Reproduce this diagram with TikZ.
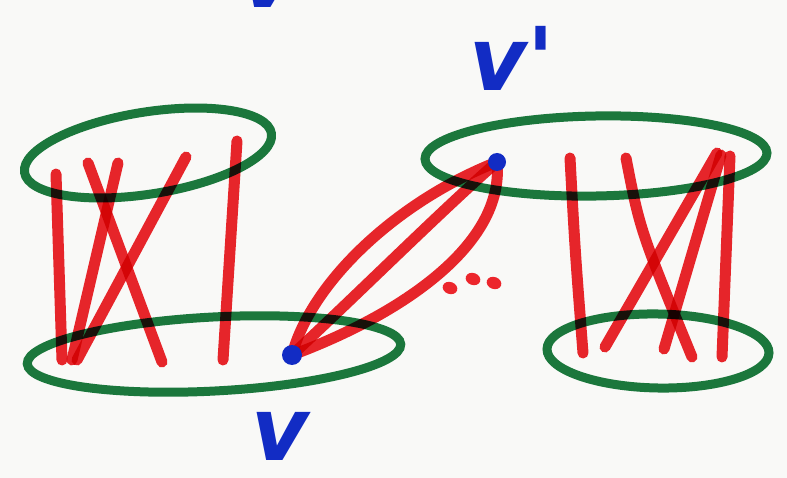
\documentclass[tikz,border=0pt]{standalone}
\usepackage{fontspec}
\newfontfamily\penfont{DejaVu Sans}
\definecolor{paper}{RGB}{249,249,247}
\definecolor{penred}{RGB}{236,38,44}
\definecolor{pengreen}{RGB}{28,122,62}
\definecolor{penblue}{RGB}{18,44,196}
\tikzset{
  greenpen/.style={draw=pengreen, line width=9pt, blend mode=multiply},
  redpen/.style={draw=penred, line width=11pt, line cap=round, blend mode=multiply},
  vertexdot/.style={fill=penblue, draw=none},
  dotmark/.style={fill=penred, draw=none, ellipse, minimum width=15pt, minimum height=12pt, inner sep=0pt},
  label/.style={text=penblue, font=\penfont\bfseries\itshape\fontsize{88}{88}\selectfont, inner sep=0pt}
}
\usetikzlibrary{shapes.geometric}
\begin{document}
\begin{tikzpicture}[x=1pt,y=-1pt]
\useasboundingbox (0,0) rectangle (787,478);
\clip (0,0) rectangle (787,478);
\fill[paper] (0,0) rectangle (787,478);

% green ellipses
\draw[greenpen, rotate around={9:(148,153)}] (148,153) ellipse [x radius=125pt, y radius=41pt];
\draw[greenpen, rotate around={3:(214,354)}] (214,354) ellipse [x radius=187pt, y radius=37pt];
\draw[greenpen, rotate around={1:(596,156)}] (596,156) ellipse [x radius=171pt, y radius=40pt];
\draw[greenpen, rotate around={-1:(658,351)}] (658,351) ellipse [x radius=111pt, y radius=37pt];

% left red edges
\coordinate (l1a) at (56,174); \coordinate (l1b) at (62,360);
\coordinate (l2a) at (88,163); \coordinate (l2b) at (162,362);
\coordinate (l3a) at (118,163); \coordinate (l3b) at (72,360);
\coordinate (l4a) at (186,157); \coordinate (l4b) at (77,360);
\coordinate (l5a) at (237,141); \coordinate (l5b) at (223,360);
\draw[redpen] (l1a) -- (l1b);
\draw[redpen] (l2a) -- (l2b);
\draw[redpen] (l3a) -- (l3b);
\draw[redpen] (l4a) -- (l4b);
\draw[redpen] (l5a) -- (l5b);

% right red edges
\coordinate (r1a) at (570,158); \coordinate (r1b) at (583,353);
\coordinate (r2a) at (626,158); \coordinate (r2b) at (692,357);
\coordinate (r3a) at (717,153); \coordinate (r3b) at (605,347);
\coordinate (r4a) at (721,155); \coordinate (r4b) at (664,349);
\coordinate (r5a) at (730,156); \coordinate (r5b) at (722,357);
\draw[redpen] (r1a) .. controls (575,250) .. (r1b);
\draw[redpen] (r2a) .. controls (640,230) .. (r2b);
\draw[redpen] (r3a) -- (r3b);
\draw[redpen] (r4a) -- (r4b);
\draw[redpen] (r5a) -- (r5b);

% edges between v and v'
\coordinate (vb) at (292,355);
\coordinate (vt) at (497,162);
\draw[redpen] (vb) .. controls (312,280) and (400,200) .. (vt);
\draw[redpen] (vb) .. controls (360,292) and (440,212) .. (vt);
\draw[redpen] (vb) .. controls (400,315) and (505,245) .. (vt);

% dots
\node[dotmark, rotate=-20] (d1) at (450,288) {};
\node[dotmark, rotate=-20] (d2) at (473,279) {};
\node[dotmark, rotate=-20] (d3) at (494,283) {};

% vertices
\fill[vertexdot] (vb) circle (10pt);
\fill[vertexdot] (vt) circle (9pt);

% labels
\node[label] (lv) at (280,436) {v};
\node[label] (lvp) at (512,58) {v'};
\node[label] (ltop) at (268,-17) {v};
\end{tikzpicture}
\end{document}
